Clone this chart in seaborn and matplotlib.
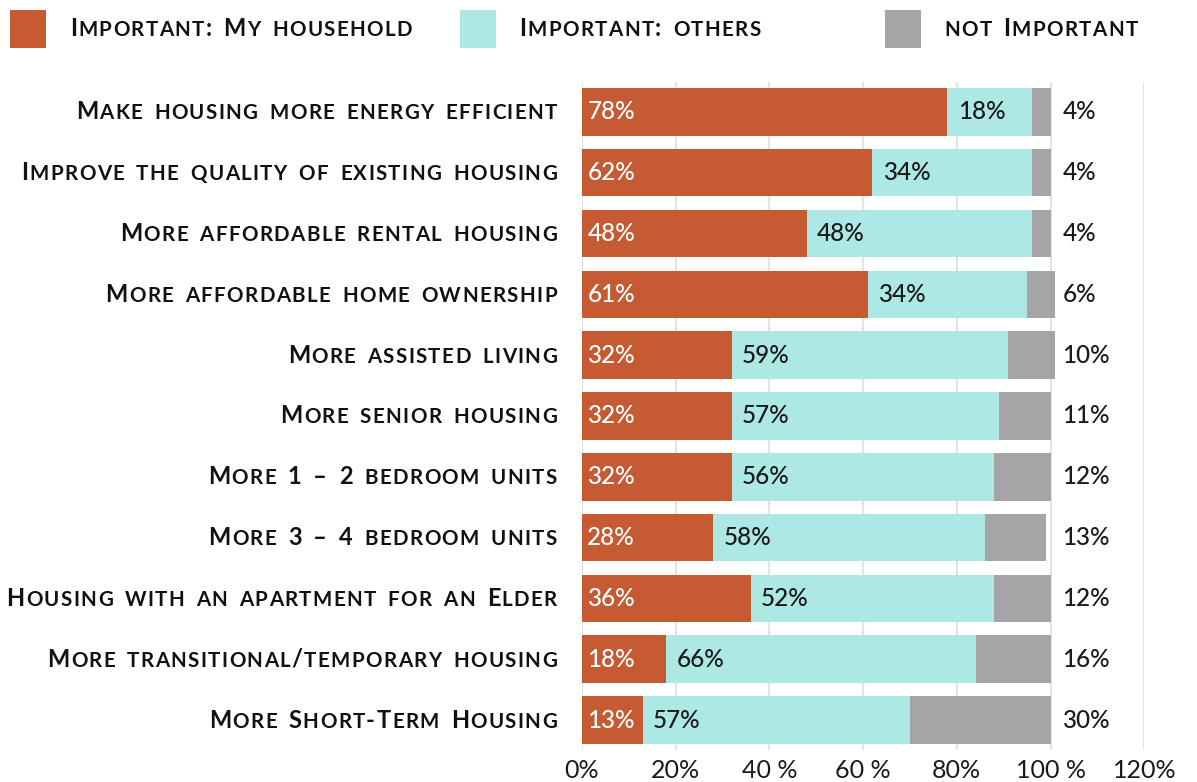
import numpy as np
import pandas as pd
import seaborn as sns
import matplotlib.pyplot as plt
from matplotlib.patches import Rectangle
from matplotlib.transforms import ScaledTranslation
from matplotlib.offsetbox import TextArea, HPacker, AnnotationBbox, AnchoredOffsetbox, DrawingArea

categories = [
    "Make housing more energy efficient",
    "Improve the quality of existing housing",
    "More affordable rental housing",
    "More affordable home ownership",
    "More assisted living",
    "More senior housing",
    "More 1 – 2 bedroom units",
    "More 3 – 4 bedroom units",
    "Housing with an apartment for an Elder",
    "More transitional/temporary housing",
    "More Short-Term Housing",
]
my_household = [78, 62, 48, 61, 32, 32, 32, 28, 36, 18, 13]
others = [18, 34, 48, 34, 59, 57, 56, 58, 52, 66, 57]
not_important = [4, 4, 4, 6, 10, 11, 12, 13, 12, 16, 30]
series_names = ["Important: My household", "Important: others", "not Important"]
tick_values = [0, 20, 40, 60, 80, 100, 120]
tick_labels = ["0%", "20%", "40 %", "60 %", "80%", "100 %", "120%"]

orange = "#C55A33"
cyan = "#AEE8E5"
grey = "#A5A5A5"
colors = [orange, cyan, grey]

df = pd.DataFrame({"cat": categories, "mine": my_household,
                   "others": others, "not": not_important})
df["upto_others"] = df["mine"] + df["others"]
df["total"] = df["upto_others"] + df["not"]

sns.set_style("white")
plt.rcParams["font.family"] = ["Lato", "DejaVu Sans"]


def small_caps(text, big=17, small=14.8, track=1.0, space=8.5, color="#111111"):
    # fake small caps: lowercase letters drawn as smaller capitals
    words = []
    for w in text.split(" "):
        chars = []
        for ch in w:
            if ch.islower():
                chars.append(TextArea(ch.upper(), textprops=dict(fontsize=small, fontweight="bold", color=color)))
            else:
                chars.append(TextArea(ch, textprops=dict(fontsize=big, fontweight="bold", color=color)))
        words.append(HPacker(children=chars, align="baseline", pad=0, sep=track))
    return HPacker(children=words, align="baseline", pad=0, sep=space)


fig = plt.figure(figsize=(11.97, 7.82), dpi=100)
ax = fig.add_axes([0.486, 0.0404, 0.470, 0.8553])

# stacked bars drawn as cumulative totals, back to front
bh = 0.78
sns.barplot(data=df, y="cat", x="total", color=grey, orient="h", width=bh,
            saturation=1, ax=ax, zorder=3)
sns.barplot(data=df, y="cat", x="upto_others", color=cyan, orient="h", width=bh,
            saturation=1, ax=ax, zorder=3)
sns.barplot(data=df, y="cat", x="mine", color=orange, orient="h", width=bh,
            saturation=1, ax=ax, zorder=3)
for p in ax.patches:
    p.set_edgecolor("none")

# value labels
for i in range(len(categories)):
    ax.text(1.2, i, f"{my_household[i]}%", color="white", va="center", ha="left",
            fontsize=17.5, fontweight="medium", zorder=4)
    ax.text(my_household[i] + 2.2, i, f"{others[i]}%", color="#1a1a1a", va="center",
            ha="left", fontsize=17.5, fontweight="medium", zorder=4)
    ax.text(102.5, i, f"{not_important[i]}%", color="#1a1a1a", va="center",
            ha="left", fontsize=17.5, fontweight="medium", zorder=4)

ax.set_xlim(0, 120)
ax.set_ylim(len(categories) - 0.5, -0.5)
ax.set_xticks(tick_values)
ax.set_xticklabels(tick_labels, fontsize=18, color="#1a1a1a")
for lab in ax.get_xticklabels():
    lab.set_transform(lab.get_transform() + ScaledTranslation(7 / 72, 0, fig.dpi_scale_trans))
ax.set_yticks(range(len(categories)))
ax.set_yticklabels([])
ax.tick_params(axis="y", length=0)
ax.tick_params(axis="x", length=0, pad=6)
ax.set_xlabel("")
ax.set_ylabel("")
ax.grid(axis="x", color="#E3E3E3", linewidth=1.5, zorder=0)
ax.grid(axis="y", visible=False)
for s in ax.spines.values():
    s.set_visible(False)

# category labels in small caps
for i, c in enumerate(categories):
    ab = AnnotationBbox(small_caps(c), xy=(0, i), xycoords=ax.get_yaxis_transform(),
                        xybox=(-18, 0), boxcoords="offset points", box_alignment=(1, 0.5),
                        frameon=False, pad=0, annotation_clip=False)
    ax.add_artist(ab)

# legend row
legend_x = [0.0084, 0.384, 0.739]
for name, col, x in zip(series_names, colors, legend_x):
    da = DrawingArea(26, 27.5, 0, 0)
    da.add_artist(Rectangle((0, 0), 26, 27.5, facecolor=col, edgecolor="none"))
    box = HPacker(children=[da, small_caps(name)], align="center", pad=0, sep=17)
    anch = AnchoredOffsetbox(loc="center left", child=box, pad=0, borderpad=0, frameon=False,
                             bbox_to_anchor=(x, 0.963), bbox_transform=fig.transFigure)
    fig.add_artist(anch)

fig.savefig("out.png", dpi=100)
